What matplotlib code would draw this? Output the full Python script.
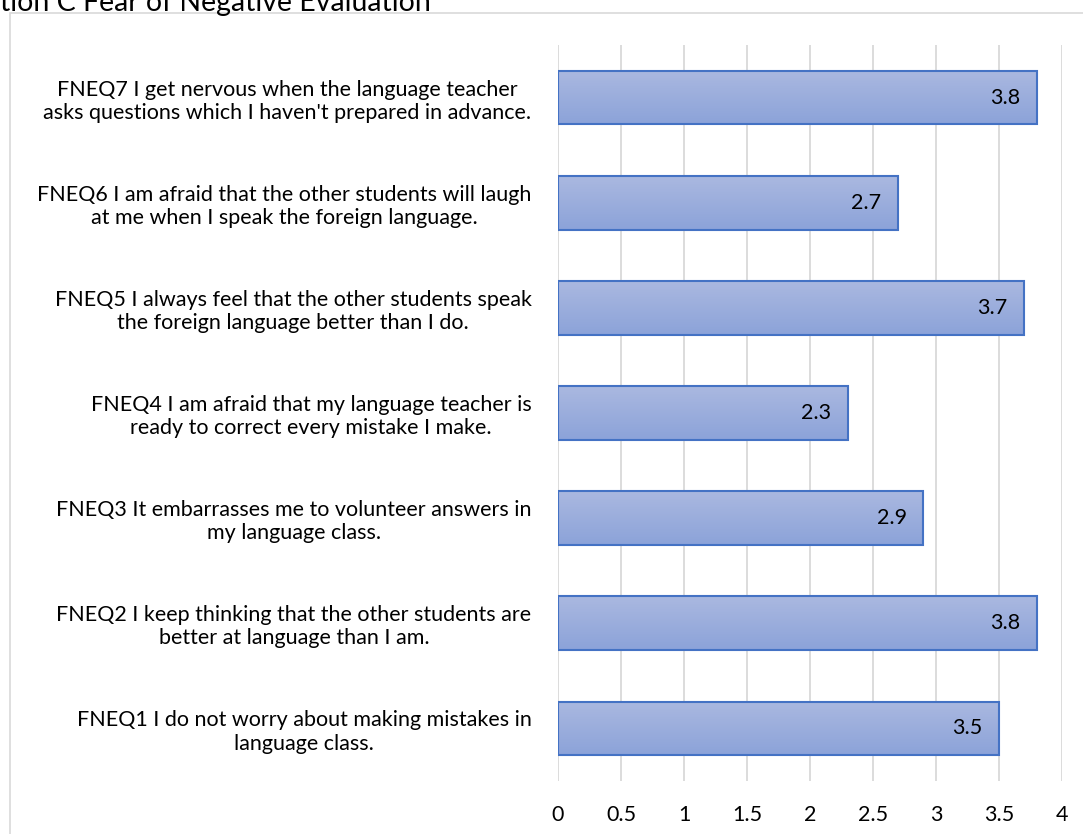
import numpy as np
import matplotlib.pyplot as plt
from matplotlib.patches import Rectangle
from matplotlib.colors import LinearSegmentedColormap

plt.rcParams['font.family'] = ['Lato', 'DejaVu Sans']

kDPI = 100
kWidth, kHeight = 1083, 834

title = "Section C Fear of Negative Evaluation"

items = [
  "FNEQ1 I do not worry about making mistakes in\nlanguage class.",
  "FNEQ2 I keep thinking that the other students are\nbetter at language than I am.",
  "FNEQ3 It embarrasses me to volunteer answers in\nmy language class.",
  "FNEQ4 I am afraid that my language teacher is\nready to correct every mistake I make.",
  "FNEQ5 I always feel that the other students speak\nthe foreign language better than I do.",
  "FNEQ6 I am afraid that the other students will laugh\nat me when I speak the foreign language.",
  "FNEQ7 I get nervous when the language teacher\nasks questions which I haven't prepared in advance.",
]
scores = [3.5, 3.8, 2.9, 2.3, 3.7, 2.7, 3.8]

x_ticks = [0, 0.5, 1, 1.5, 2, 2.5, 3, 3.5, 4]
x_tick_labels = ["0", "0.5", "1", "1.5", "2", "2.5", "3", "3.5", "4"]

kFontSize = 15.5
kBarHeight = 0.51
kColorEdge = '#4472C4'
kColorGrid = '#D9D9D9'
kGradient = LinearSegmentedColormap.from_list('bar', ['#8CA3D9', '#AAB8E0'])

fig = plt.figure(figsize=(kWidth / kDPI, kHeight / kDPI), dpi=kDPI)
ax = fig.add_axes([558 / kWidth, 1 - 781 / kHeight, (1062 - 558) / kWidth, (781 - 45) / kHeight])

# outer chart frame, runs past the right and bottom edge
fig.patches.append(Rectangle((10 / kWidth, -0.1), 1.2, 1 - 13 / kHeight + 0.1,
                             transform=fig.transFigure, fill=False,
                             edgecolor=kColorGrid, lw=1.2))

fig.text(431 / kWidth, 1 - 11 / kHeight, title, ha='right', va='baseline',
         fontsize=20.5, color='#000000')

y = np.arange(len(items))
bars = ax.barh(y, scores, height=kBarHeight, color='none', edgecolor=kColorEdge,
               linewidth=1.5, zorder=3)

grad = np.linspace(0, 1, 64).reshape(-1, 1)
for bar in bars:
  x0, y0 = bar.get_x(), bar.get_y()
  w, h = bar.get_width(), bar.get_height()
  ax.imshow(grad, cmap=kGradient, aspect='auto', origin='lower',
            extent=(x0, x0 + w, y0, y0 + h), zorder=2)
  ax.annotate(f"{w:g}", (x0 + w, y0 + h / 2), xytext=(-12, 0),
              textcoords='offset points', ha='right', va='center',
              fontsize=kFontSize, zorder=4)

ax.set_xlim(0, 4)
ax.set_ylim(-0.5, len(items) - 0.5)
ax.set_xticks(x_ticks)
ax.set_xticklabels(x_tick_labels, fontsize=kFontSize)
ax.set_yticks(y)
ax.set_yticklabels(items, fontsize=kFontSize, multialignment='center', linespacing=1.2)
ax.tick_params(axis='y', length=0, pad=19)
ax.tick_params(axis='x', length=0, pad=17)
ax.grid(axis='x', color=kColorGrid, lw=1.3, zorder=1)
ax.set_axisbelow(True)
for s in ax.spines.values():
  s.set_visible(False)

fig.savefig("out.png", dpi=kDPI)
